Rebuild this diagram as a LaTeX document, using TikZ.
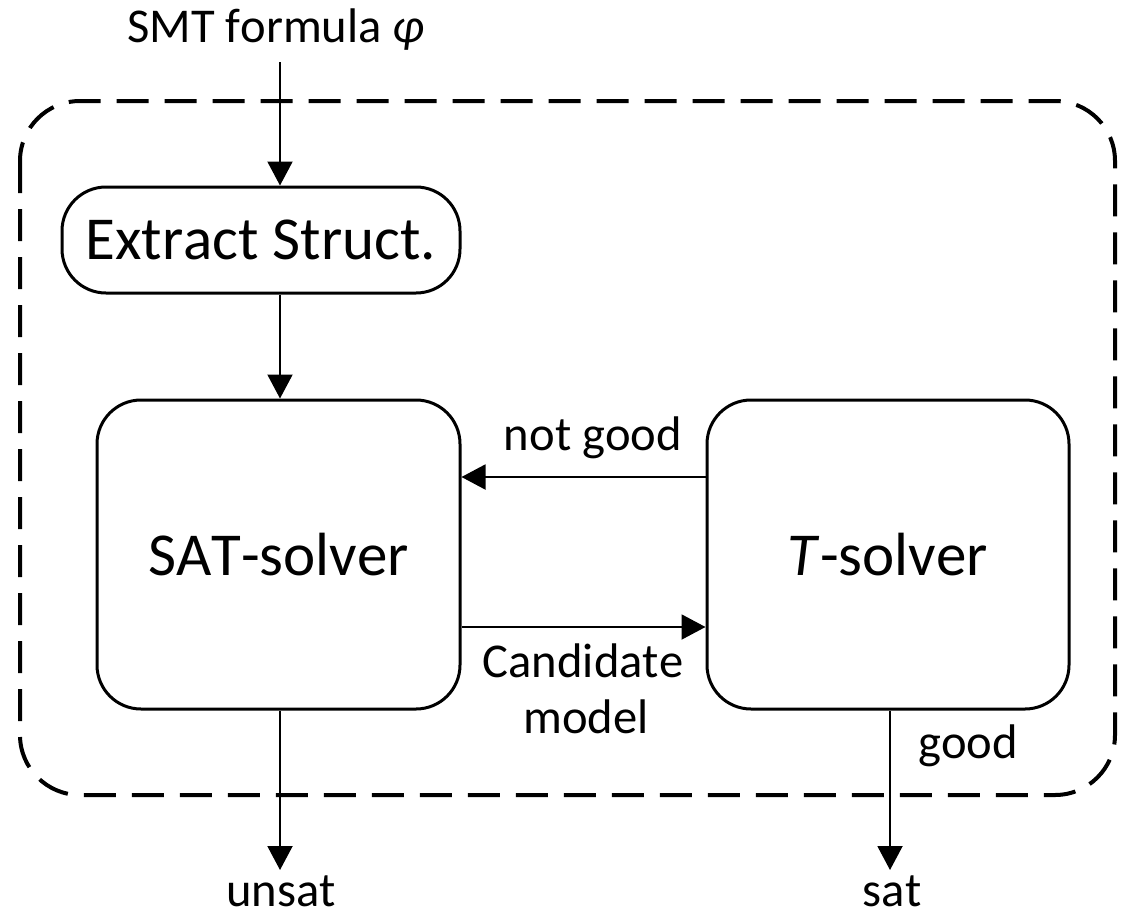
\documentclass[tikz,border=0pt]{standalone}
\usepackage{fontspec}
\setmainfont{Carlito}[Kerning=Off]
\usetikzlibrary{arrows.meta}
\begin{document}
\begin{tikzpicture}[x=0.5pt,y=-0.5pt,
  box/.style={draw, line width=1.5pt, rounded corners=22pt, inner sep=0pt,
    font=\fontsize{30.5}{36}\selectfont},
  lab/.style={font=\fontsize{24.3}{28}\selectfont, inner sep=0pt, anchor=base},
  flow/.style={line width=1pt, -{Triangle[length=12pt,width=12.5pt]}},
  frame/.style={line width=2pt, dash pattern=on 16pt off 8pt, rounded corners=30pt},
]
\useasboundingbox (0,0) rectangle (1129,921);

% enclosing solver boundary
\draw[frame] (20,101) rectangle (1115,795);

% processing stages
\node[box, minimum width=199pt, minimum height=53pt] (extract) at (261,240) {Extract Struct.};
\node[box, minimum width=181.5pt, minimum height=154.5pt] (sat) at (278.5,554.5) {SAT-solver};
\node[box, minimum width=181pt, minimum height=154.5pt] (tsolver) at (888,554.5) {\textit{T}-solver};

% input and outputs
\coordinate (src) at (280,62);
\coordinate (unsatEnd) at (280,870);
\coordinate (satEnd) at (890,870);
\node[lab] (input) at (276,42) {SMT formula \textit{φ}};
\node[lab] (unsat) at (281,906) {unsat};
\node[lab] (satout) at (892,906) {sat};

% connectors
\draw[flow] (src) -- (src |- extract.north);
\draw[flow] (extract.south -| src) -- (sat.north -| src);
\draw[flow] ([yshift=38.75pt]tsolver.west) -- ([yshift=38.75pt]sat.east);
\draw[flow] ([yshift=-36.25pt]sat.east) -- ([yshift=-36.25pt]tsolver.west);
\draw[flow] (sat.south -| unsatEnd) -- (unsatEnd);
\draw[flow] (tsolver.south -| satEnd) -- (satEnd);

% connector labels
\node[lab] (notgood) at (593,450) {not good};
\node[lab] (cand) at (583,677) {Candidate};
\node[lab] (model) at (586,733) {model};
\node[lab] (good) at (968,758) {good};
\end{tikzpicture}
\end{document}
